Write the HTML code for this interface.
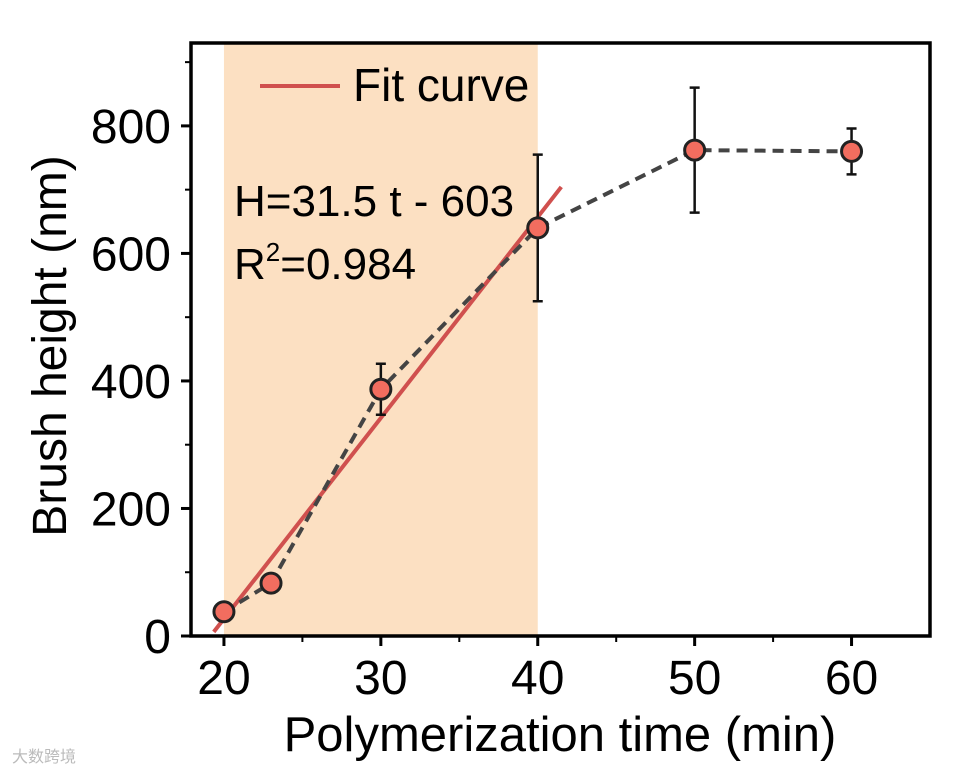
<!DOCTYPE html>
<html><head><meta charset="utf-8"><style>
body{margin:0;background:#fff;width:973px;height:774px;overflow:hidden}
svg{display:block;font-family:"Liberation Sans",Arial,sans-serif}
</style></head><body>
<svg id="chart" width="973" height="774">
<g id="plot"></g>
<text x="12" y="762" font-size="16" fill="#bbb" font-family="'Liberation Sans','Noto Sans CJK SC',sans-serif">大数跨境</text>
</svg>
<script>
const times=[20,23,30,40,50,60];
const heights=[38,83,387,640,762,760];
const errors=[10,10,40,115,98,36];
const fitSlope=31.5, fitIntercept=-603;
const fitRange=[19.35,41.5];
const shadeRange=[20,40];
const xTicks=[20,30,40,50,60];
const xMinor=[25,35,45,55];
const yTicks=[0,200,400,600,800];
const yMinor=[100,300,500,700,900];
const L=191,R=930,T=43,B=636,xmin=17.9,xmax=65,ymin=0,ymax=930;
const X=v=>L+(v-xmin)/(xmax-xmin)*(R-L);
const Y=v=>B-(v-ymin)/(ymax-ymin)*(B-T);
const ns="http://www.w3.org/2000/svg";
const g=document.getElementById('plot');
function mk(t,a,p){const e=document.createElementNS(ns,t);for(const k in a)e.setAttribute(k,a[k]);(p||g).appendChild(e);return e;}
let e;
e=mk('rect',{x:X(shadeRange[0]),y:T,width:X(shadeRange[1])-X(shadeRange[0]),height:B-T,fill:'#fce0c2'});


e=mk('line',{x1:X(fitRange[0]),y1:Y(fitSlope*fitRange[0]+fitIntercept),x2:X(fitRange[1]),y2:Y(fitSlope*fitRange[1]+fitIntercept),stroke:'#d0504e','stroke-width':4});


e=mk('polyline',{points:times.map((t,i)=>X(t)+','+Y(heights[i])).join(' '),fill:'none',stroke:'#444','stroke-width':4,'stroke-dasharray':'11,7'});


times.forEach((t,i)=>{
 const x=X(t),y1=Y(heights[i]+errors[i]),y2=Y(heights[i]-errors[i]);
 e=mk('path',{d:`M${x},${y1}V${y2}M${x-5},${y1}H${x+5}M${x-5},${y2}H${x+5}`,stroke:'#111','stroke-width':2.5,fill:'none'});
 
 
 e=mk('circle',{cx:x,cy:Y(heights[i]),r:10,fill:'#f26d5f',stroke:'#222','stroke-width':3});
 
 
});
e=mk('rect',{x:L,y:T,width:R-L,height:B-T,fill:'none',stroke:'#000','stroke-width':3.5});


xTicks.forEach(v=>{
 e=mk('line',{x1:X(v),x2:X(v),y1:B,y2:B+10,stroke:'#000','stroke-width':3});
 
 
 e=mk('text',{x:X(v),y:B+58,'font-size':48,'text-anchor':'middle'});e.textContent=v;
 
 
});
xMinor.forEach(v=>{e=mk('line',{x1:X(v),x2:X(v),y1:B,y2:B+6,stroke:'#000','stroke-width':2});
 
 });
yTicks.forEach(v=>{
 e=mk('line',{x1:L-10,x2:L,y1:Y(v),y2:Y(v),stroke:'#000','stroke-width':3});
 
 
 e=mk('text',{x:L-20,y:Y(v)+17,'font-size':48,'text-anchor':'end'});e.textContent=v;
 
 
});
yMinor.forEach(v=>{e=mk('line',{x1:L-6,x2:L,y1:Y(v),y2:Y(v),stroke:'#000','stroke-width':2});
 
 });
e=mk('text',{x:560,y:751,'font-size':49,'text-anchor':'middle'});e.textContent='Polymerization time (min)';


e=mk('text',{x:0,y:0,'font-size':48,'text-anchor':'middle',transform:`translate(66,346) rotate(-90)`});e.textContent='Brush height (nm)';


e=mk('line',{x1:260,x2:340,y1:86,y2:86,stroke:'#d0504e','stroke-width':4});


e=mk('text',{x:353,y:101,'font-size':46});e.textContent='Fit curve';


e=mk('text',{x:234,y:216,'font-size':44});e.textContent='H=31.5 t - 603';


e=mk('text',{x:234,y:279,'font-size':44});e.innerHTML='R<tspan dy="-18" font-size="26">2</tspan><tspan dy="18">=0.984</tspan>';


</script>
</body></html>
